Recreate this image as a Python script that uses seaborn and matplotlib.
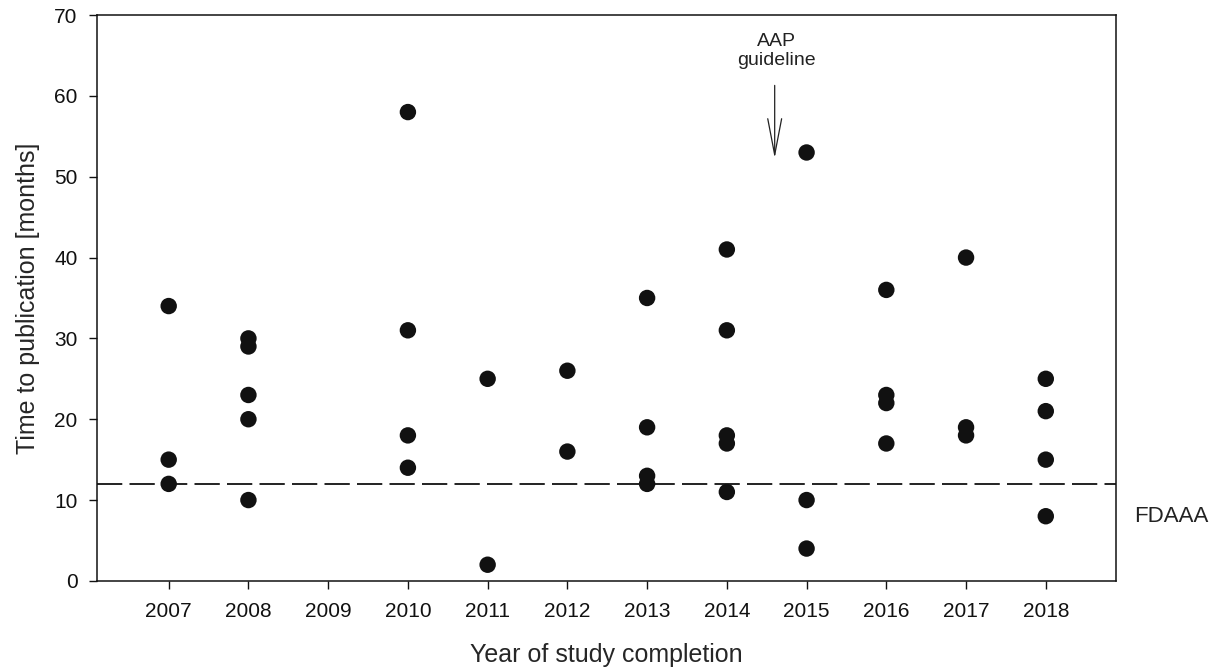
import matplotlib
matplotlib.use("Agg")
import matplotlib.pyplot as plt
import pandas as pd
import seaborn as sns

# values
years_2007 = [34, 15, 12]
years_2008 = [30, 29, 23, 20, 10]
years_2010 = [58, 31, 18, 14]
years_2011 = [25, 2]
years_2012 = [26, 16]
years_2013 = [35, 19, 13, 12]
years_2014 = [41, 31, 18, 17, 11]
years_2015 = [53, 10, 4]
years_2016 = [36, 23, 22, 17]
years_2017 = [40, 19, 18]
years_2018 = [25, 21, 15, 8]

groups = {2007: years_2007, 2008: years_2008, 2010: years_2010, 2011: years_2011,
          2012: years_2012, 2013: years_2013, 2014: years_2014, 2015: years_2015,
          2016: years_2016, 2017: years_2017, 2018: years_2018}
tick_years = list(range(2007, 2019))
fdaaa = 12
aap_year = 2014.6

rows = []
for yr, vals in groups.items():
    for v in vals:
        rows.append({"year": yr, "months": v})
df = pd.DataFrame(rows)

sns.set_style("white")
plt.rcParams['font.family'] = ['Liberation Sans', 'DejaVu Sans']

fig = plt.figure(figsize=(12.27, 6.70), dpi=100)
ax = fig.add_axes([0.079, 0.133, 0.8305, 0.8445])

sns.scatterplot(data=df, x="year", y="months", ax=ax, color="#111111",
                s=140, edgecolor="none", zorder=3)

ax.axhline(fdaaa, color="#111111", lw=1.3, dashes=(14, 4), zorder=2)
ax.text(1.018, (fdaaa - 4) / 70, "FDAAA", transform=ax.transAxes,
        fontsize=16, va="center", ha="left", color="#222222")

ax.annotate("", xy=(aap_year, 52.3), xytext=(aap_year, 61.3),
            arrowprops=dict(arrowstyle="->,head_length=2.6,head_width=0.5",
                            lw=0.9, color="#222222", shrinkA=0, shrinkB=0))
ax.text(aap_year + 0.02, 63.3, "AAP\nguideline", ha="center", va="bottom",
        fontsize=14, color="#222222", linespacing=1.15)

ax.set_xlim(2006.1, 2018.88)
ax.set_ylim(0, 70)
ax.set_xticks(tick_years)
ax.set_xticklabels([str(y) for y in tick_years])
ax.set_yticks(range(0, 71, 10))
ax.tick_params(axis="both", direction="out", length=6, width=1, labelsize=15,
               colors="#111111", bottom=True, left=True)
ax.tick_params(axis="x", pad=9)
ax.tick_params(axis="y", pad=8)
for sp in ax.spines.values():
    sp.set_color("#111111")
    sp.set_linewidth(1.1)

ax.set_xlabel("Year of study completion", fontsize=18, labelpad=16)
ax.set_ylabel("Time to publication [months]", fontsize=18, labelpad=10)

fig.savefig("out.png", dpi=100)
